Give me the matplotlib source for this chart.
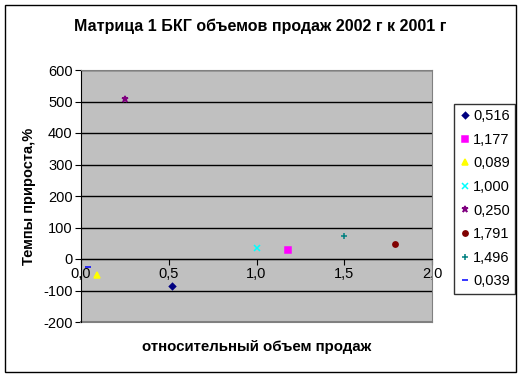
import matplotlib.pyplot as plt
from matplotlib.patches import Rectangle

plt.rcParams['font.family'] = ['Liberation Sans', 'DejaVu Sans']
plt.rcParams['axes.unicode_minus'] = False

# данные: относительный объем продаж и темпы прироста
labels = ['0,516', '1,177', '0,089', '1,000', '0,250', '1,791', '1,496', '0,039']
rel_volume = [0.516, 1.177, 0.089, 1.000, 0.250, 1.791, 1.496, 0.039]
growth = [-85, 28, -51, 34, 507, 47, 73, -24]

markers = ['D', 's', '^', 'x', '*', 'o', '+', '_']
colors = ['#000080', '#FF00FF', '#FFFF00', '#00FFFF', '#800080', '#800000', '#008080', '#0000FF']
sizes = [3.2, 4.5, 5, 4, 4.5, 3.8, 4.5, 5]

fig = plt.figure(figsize=(5.23, 3.78), dpi=100)
fig.patches.append(Rectangle((5 / 523, 1 - 372 / 378), 511 / 523, 367 / 378,
                             transform=fig.transFigure, fill=False, edgecolor='black', linewidth=1))
ax = fig.add_axes([81 / 523, 1 - 322 / 378, 351 / 523, 252 / 378])
ax.set_facecolor('#C0C0C0')

for i in range(len(labels)):
    ax.plot(rel_volume[i], growth[i], linestyle='none', marker=markers[i], color=colors[i],
            markersize=sizes[i], markeredgewidth=1.1, label=labels[i], zorder=3)

ax.set_xlim(0, 2)
ax.set_ylim(-200, 600)
ax.set_xticks([0, 0.5, 1.0, 1.5, 2.0])
ax.set_xticklabels(['0,0', '0,5', '1,0', '1,5', '2,0'])
ax.set_yticks(range(-200, 601, 100))
ax.yaxis.grid(True, color='black', linewidth=1)
ax.set_axisbelow(True)

ax.spines['bottom'].set_position(('data', 0))
ax.spines['bottom'].set_color('black')
ax.spines['left'].set_color('black')
ax.spines['top'].set_color('#808080')
ax.spines['right'].set_color('#808080')
ax.axhline(-200, color='#808080', linewidth=1.5, clip_on=False, zorder=1)
ax.tick_params(direction='out', length=4, labelsize=10.5, colors='black', pad=2)

fig.text(260 / 523, 1 - 26 / 378, 'Матрица 1 БКГ объемов продаж 2002 г к 2001 г', fontsize=11.5,
         fontweight='bold', ha='center', va='center')
fig.text(257 / 523, 1 - 347 / 378, 'относительный объем продаж', fontsize=10.8, fontweight='bold',
         ha='center', va='center')
fig.text(29 / 523, 1 - 196 / 378, 'Темпы прироста,%', fontsize=10.5, fontweight='bold',
         ha='center', va='center', rotation=90)

leg = ax.legend(loc='upper left', bbox_to_anchor=(454 / 523, 1 - 104 / 378), bbox_transform=fig.transFigure,
                fontsize=10.5, frameon=True, fancybox=False, edgecolor='black', borderpad=0.35,
                labelspacing=0.66, handletextpad=0.15, handlelength=0.8, borderaxespad=0)
leg.get_frame().set_linewidth(1)

fig.savefig('out.png', dpi=100)
